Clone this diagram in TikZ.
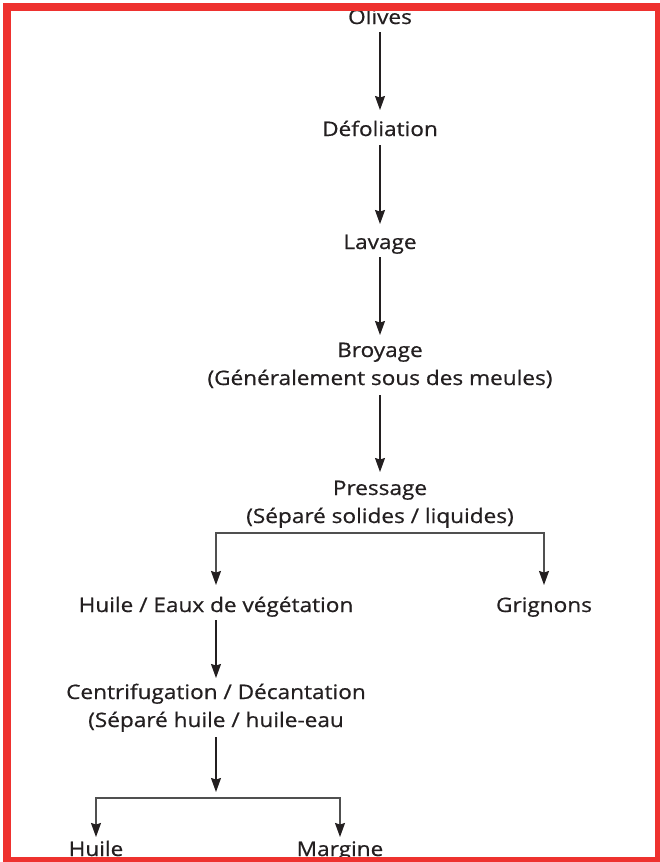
\documentclass[tikz,border=0pt]{standalone}
\usepackage{fontspec}
\setmainfont{Open Sans}[FakeStretch=1.13,FakeBold=0.6]
\usetikzlibrary{arrows.meta}
\definecolor{txt}{RGB}{35,31,32}
\definecolor{framered}{RGB}{238,50,47}
\definecolor{brgray}{RGB}{80,80,80}
\newcommand\twoline[2]{\begin{tabular}[t]{@{}c@{}}#1\\#2\end{tabular}}
\begin{document}
\begin{tikzpicture}[x=1pt,y=1pt,
  lbl/.style={font=\fontsize{20}{28}\selectfont, text=txt, inner sep=0pt, anchor=base},
  tip/.style={-{Stealth[length=14pt,width=10pt,inset=1.5pt,color=txt]}},
  arr/.style={draw=txt, line width=1.1pt, tip},
  brarr/.style={draw=brgray, line width=1.3pt, tip}]
\useasboundingbox (0,0) rectangle (659,-862);
\fill[white] (0,0) rectangle (659,-862);

\node[lbl] (olives) at (380,-24) {Olives};
\node[lbl] (defol) at (380,-136) {Défoliation};
\node[lbl] (lavage) at (380,-249) {Lavage};
\node[lbl] (broyage) at (380,-357) {\twoline{Broyage}{(Généralement sous des meules)}};
\node[lbl] (pressage) at (380,-495) {\twoline{Pressage}{(Séparé solides / liquides)}};
\node[lbl] (huileeaux) at (216,-612) {Huile / Eaux de végétation};
\node[lbl] (grignons) at (544,-612) {Grignons};
\node[lbl] (centri) at (216,-699) {\twoline{Centrifugation / Décantation}{(Séparé huile / huile-eau}};
\node[lbl] (huile) at (96,-856) {Huile};
\node[lbl] (margine) at (340,-856) {Margine};
\coordinate (split1) at (380,-533);
\coordinate (split2) at (216,-798);

\draw[arr] ([yshift=-8pt]olives.base) -- ([yshift=26pt]defol.base);
\draw[arr] ([yshift=-9pt]defol.base) -- ([yshift=25pt]lavage.base);
\draw[arr] ([yshift=-8pt]lavage.base) -- ([yshift=22pt]broyage.base);
\draw[arr] ([yshift=-38pt]broyage.base) -- ([yshift=23pt]pressage.base);
\draw[brarr] (split1) -| ([yshift=27pt]huileeaux.base);
\draw[brarr] (split1) -| ([yshift=27pt]grignons.base);
\draw[arr] ([yshift=-8pt]huileeaux.base) -- ([yshift=21pt]centri.base);
\draw[arr] ([yshift=-38pt]centri.base) -- ([yshift=6pt]split2);
\draw[brarr] (split2) -| ([yshift=19pt]huile.base);
\draw[brarr] (split2) -| ([yshift=19pt]margine.base);

\draw[framered, line width=8pt] (7,-7) rectangle (658.5,-861);
\end{tikzpicture}
\end{document}
